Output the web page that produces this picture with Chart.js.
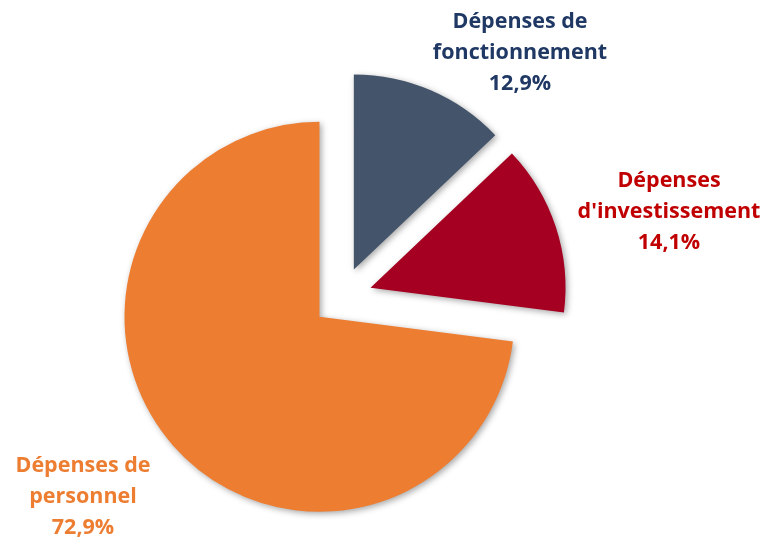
<!DOCTYPE html>
<html>
<head>
<meta charset="utf-8">
<script src="https://cdn.jsdelivr.net/npm/chart.js@4/dist/chart.umd.min.js"></script>
<style>
  html, body { margin: 0; padding: 0; background: #fff; }
  #wrap { width: 766px; height: 542px; }
</style>
</head>
<body>
<div id="wrap"><canvas id="budgetChart"></canvas></div>
<script>
// Répartition des dépenses (%)
const categories = ['Dépenses de fonctionnement', "Dépenses d'investissement", 'Dépenses de personnel'];
const values = [12.9, 14.1, 72.9];
const sliceColors = ['#44546A', '#A50021', '#ED7D31'];
const textColors = ['#1F3864', '#C00000', '#ED7D31'];
// lignes de chaque étiquette
const labelLines = [
    ['Dépenses de', 'fonctionnement', '12,9%'],
    ['Dépenses', "d'investissement", '14,1%'],
    ['Dépenses de', 'personnel', '72,9%']
];
// décalage de l'étiquette par rapport au centre du camembert
const labelOffsets = [[178, -244], [327, -85], [-259, 200]];
const explode = 30;

// éclater les parts le long de leur angle médian
const explodePlugin = {
    id: 'explode',
    afterDatasetUpdate(chart, args) {
        args.meta.data.forEach(function(arc) {
            const mid = (arc.startAngle + arc.endAngle) / 2;
            arc.$cx = arc.x;
            arc.$cy = arc.y;
            arc.x += Math.cos(mid) * explode;
            arc.y += Math.sin(mid) * explode;
        });
    },
    beforeDatasetsDraw(chart) {
        const ctx = chart.ctx;
        ctx.save();
        ctx.shadowColor = 'rgba(0, 0, 0, 0.35)';
        ctx.shadowBlur = 6;
        ctx.shadowOffsetX = 2;
        ctx.shadowOffsetY = 2;
    },
    afterDatasetsDraw(chart) {
        chart.ctx.restore();
    }
};

// étiquettes de données
const labelPlugin = {
    id: 'sliceLabels',
    afterDraw(chart) {
        const ctx = chart.ctx;
        const arcs = chart.getDatasetMeta(0).data;
        ctx.save();
        ctx.font = 'bold 21.5px "Open Sans", Lato, sans-serif';
        ctx.textAlign = 'center';
        ctx.textBaseline = 'middle';
        arcs.forEach(function(arc, i) {
            const x = arc.$cx + labelOffsets[i][0];
            const y = arc.$cy + labelOffsets[i][1];
            const lines = labelLines[i];
            const lh = 31;
            ctx.fillStyle = textColors[i];
            lines.forEach(function(t, j) {
                ctx.fillText(t, x, y + (j - (lines.length - 1) / 2) * lh);
            });
        });
        ctx.restore();
    }
};

document.addEventListener('DOMContentLoaded', function() {
    const ctx = document.getElementById('budgetChart');
    new Chart(ctx.getContext('2d'), {
        type: 'pie',
        data: {
            labels: categories,
            datasets: [{
                data: values,
                backgroundColor: sliceColors,
                borderWidth: 0
            }]
        },
        options: {
            responsive: true,
            maintainAspectRatio: false,
            animation: false,
            events: [],
            radius: 195,
            layout: {
                padding: { left: 0, right: 82, top: 52, bottom: 0 }
            },
            plugins: {
                legend: { display: false },
                tooltip: { enabled: false }
            }
        },
        plugins: [explodePlugin, labelPlugin]
    });
});
</script>
</body>
</html>
